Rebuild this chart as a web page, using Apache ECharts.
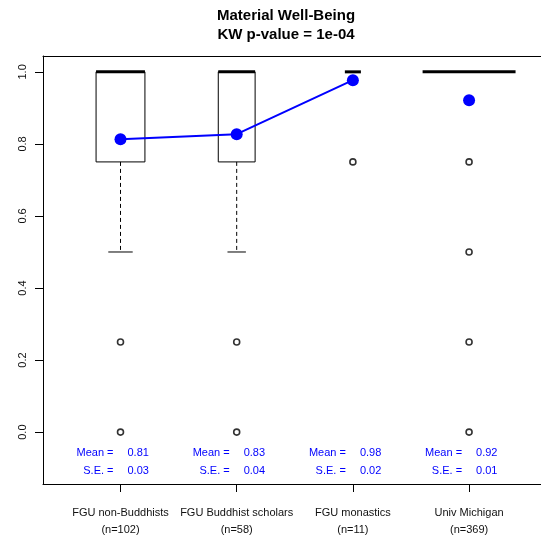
<!DOCTYPE html>
<html>
<head>
<meta charset="utf-8">
<script src="https://cdn.jsdelivr.net/npm/echarts@6/dist/echarts.min.js"></script>
<style>
html,body{margin:0;padding:0;background:#fff;}
#chart{width:541px;height:535px;}
</style>
</head>
<body>
<div id="chart"></div>
<script>
// ---- data ----
const categories = ['FGU non-Buddhists', 'FGU Buddhist scholars', 'FGU monastics', 'Univ Michigan'];
const nCounts = [102, 58, 11, 369];
const q1 = [0.75, 0.75, 1, 1];
const medians = [1, 1, 1, 1];
const q3 = [1, 1, 1, 1];
const whiskerLow = [0.5, 0.5, 1, 1];
const whiskerHigh = [1, 1, 1, 1];
const outliers = [[0.25, 0], [0.25, 0], [0.75], [0.75, 0.5, 0.25, 0]];
const means = [0.813, 0.827, 0.977, 0.921];
const seValues = [0.03, 0.04, 0.02, 0.01];
const meanLineGroups = [0, 1, 2]; // groups connected by the blue line
const yTicks = [0, 0.2, 0.4, 0.6, 0.8, 1.0];
const titleLines = ['Material Well-Being', 'KW p-value = 1e-04'];
const statRowsY = [-0.05, -0.1];

const maxN = Math.max(...nCounts);
const boxData = categories.map((c, i) => [i + 1, q1[i], medians[i], q3[i], whiskerLow[i], whiskerHigh[i], 0.8 * Math.sqrt(nCounts[i] / maxN)]);
const outlierData = [];
outliers.forEach((arr, i) => arr.forEach(v => outlierData.push([i + 1, v])));
const meanLineData = meanLineGroups.map(i => [i + 1, means[i]]);
const meanPointData = means.map((m, i) => [i + 1, m]);
const statData = means.map((m, i) => [i + 1, m, seValues[i]]);

const chart = echarts.init(document.getElementById('chart'), null, {renderer: 'canvas'});
const FONT = '"Liberation Sans", Arial, sans-serif';
const BLUE = '#0000ff';
const XMIN = 0.333, XMAX = 4.619;

chart.setOption({
  animation: false,
  backgroundColor: '#fff',
  graphic: [
    {type: 'text', x: 286, y: 16, style: {text: titleLines[0], textAlign: 'center', textVerticalAlign: 'middle', font: 'bold 15px ' + FONT, fill: '#000'}},
    {type: 'text', x: 286, y: 35, style: {text: titleLines[1], textAlign: 'center', textVerticalAlign: 'middle', font: 'bold 15px ' + FONT, fill: '#000'}}
  ],
  grid: {left: 43, right: 0, top: 56, bottom: 51, show: false, containLabel: false, outerBoundsMode: 'none'},
  xAxis: [{
    type: 'value', min: XMIN, max: XMAX, position: 'bottom',
    axisLine: {show: true, onZero: false, lineStyle: {color: '#000', width: 1}},
    splitLine: {show: false},
    axisTick: {show: true, customValues: [1, 2, 3, 4], length: 8, lineStyle: {color: '#000', width: 1}},
    axisLabel: {
      customValues: [1, 2, 3, 4], margin: 20, color: '#111', fontFamily: FONT, fontSize: 11, lineHeight: 17,
      formatter: v => categories[Math.round(v) - 1] + '\n(n=' + nCounts[Math.round(v) - 1] + ')'
    }
  }, {
    type: 'value', min: XMIN, max: XMAX, position: 'top',
    axisLine: {show: true, onZero: false, lineStyle: {color: '#000', width: 1}},
    splitLine: {show: false}, axisTick: {show: false}, axisLabel: {show: false}
  }],
  yAxis: {
    type: 'value', min: -0.144, max: 1.044,
    axisLine: {show: true, onZero: false, lineStyle: {color: '#000', width: 1}},
    splitLine: {show: false},
    axisTick: {show: true, customValues: yTicks, length: 8, lineStyle: {color: '#000', width: 1}},
    axisLabel: {customValues: yTicks, rotate: 90, margin: 15, color: '#111', fontFamily: FONT, fontSize: 11, formatter: v => v.toFixed(1)}
  },
  series: [
    {
      type: 'custom',
      data: boxData,
      z: 2,
      renderItem: function (params, api) {
        const x = api.value(0);
        const w = api.value(6);
        const pL = api.coord([x - w / 2, api.value(1)]);
        const pR = api.coord([x + w / 2, api.value(3)]);
        const pMedL = api.coord([x - w / 2, api.value(2)]);
        const pMedR = api.coord([x + w / 2, api.value(2)]);
        const cL = api.coord([x - w / 4, api.value(4)]);
        const cR = api.coord([x + w / 4, api.value(4)]);
        const cHL = api.coord([x - w / 4, api.value(5)]);
        const cHR = api.coord([x + w / 4, api.value(5)]);
        const c = api.coord([x, api.value(1)]);
        const lowY = api.coord([x, api.value(4)])[1];
        const highY = api.coord([x, api.value(5)])[1];
        const q3Y = api.coord([x, api.value(3)])[1];
        const ch = [];
        const ls = {stroke: '#000', lineWidth: 1, fill: null};
        if (Math.abs(pL[1] - pR[1]) > 0.5) {
          ch.push({type: 'rect', shape: {x: pL[0], y: pR[1], width: pR[0] - pL[0], height: pL[1] - pR[1]}, style: ls});
        }
        if (Math.abs(lowY - pL[1]) > 0.5) {
          ch.push({type: 'line', shape: {x1: c[0], y1: pL[1], x2: c[0], y2: lowY}, style: {stroke: '#000', lineWidth: 1, lineDash: [4, 3]}});
          ch.push({type: 'line', shape: {x1: cL[0], y1: cL[1], x2: cR[0], y2: cR[1]}, style: {stroke: '#000', lineWidth: 1}});
        }
        if (Math.abs(highY - q3Y) > 0.5) {
          ch.push({type: 'line', shape: {x1: c[0], y1: q3Y, x2: c[0], y2: highY}, style: {stroke: '#000', lineWidth: 1, lineDash: [4, 3]}});
          ch.push({type: 'line', shape: {x1: cHL[0], y1: cHL[1], x2: cHR[0], y2: cHR[1]}, style: {stroke: '#000', lineWidth: 1}});
        }
        ch.push({type: 'line', shape: {x1: pMedL[0], y1: pMedL[1], x2: pMedR[0], y2: pMedR[1]}, style: {stroke: '#000', lineWidth: 3}});
        return {type: 'group', children: ch};
      }
    },
    {
      type: 'scatter', data: outlierData, symbol: 'circle', symbolSize: 6, z: 3,
      itemStyle: {color: '#fff', borderColor: '#000', borderWidth: 1.6}
    },
    {
      type: 'line', data: meanLineData, symbol: 'none', z: 4,
      lineStyle: {color: BLUE, width: 2}
    },
    {
      type: 'scatter', data: meanPointData, symbol: 'circle', symbolSize: 12, z: 5,
      itemStyle: {color: BLUE, opacity: 1}
    },
    {
      type: 'custom', data: statData, z: 6,
      renderItem: function (params, api) {
        const x = api.value(0);
        const p1 = api.coord([x, statRowsY[0]]);
        const p2 = api.coord([x, statRowsY[1]]);
        const f = '11px ' + FONT;
        const dy = 2.5;
        return {type: 'group', children: [
          {type: 'text', style: {text: 'Mean =', x: p1[0] - 7, y: p1[1] + dy, textAlign: 'right', textVerticalAlign: 'middle', font: f, fill: BLUE}},
          {type: 'text', style: {text: api.value(1).toFixed(2), x: p1[0] + 7, y: p1[1] + dy, textAlign: 'left', textVerticalAlign: 'middle', font: f, fill: BLUE}},
          {type: 'text', style: {text: 'S.E. =', x: p2[0] - 7, y: p2[1] + dy, textAlign: 'right', textVerticalAlign: 'middle', font: f, fill: BLUE}},
          {type: 'text', style: {text: api.value(2).toFixed(2), x: p2[0] + 7, y: p2[1] + dy, textAlign: 'left', textVerticalAlign: 'middle', font: f, fill: BLUE}}
        ]};
      }
    }
  ]
});
</script>
</body>
</html>
